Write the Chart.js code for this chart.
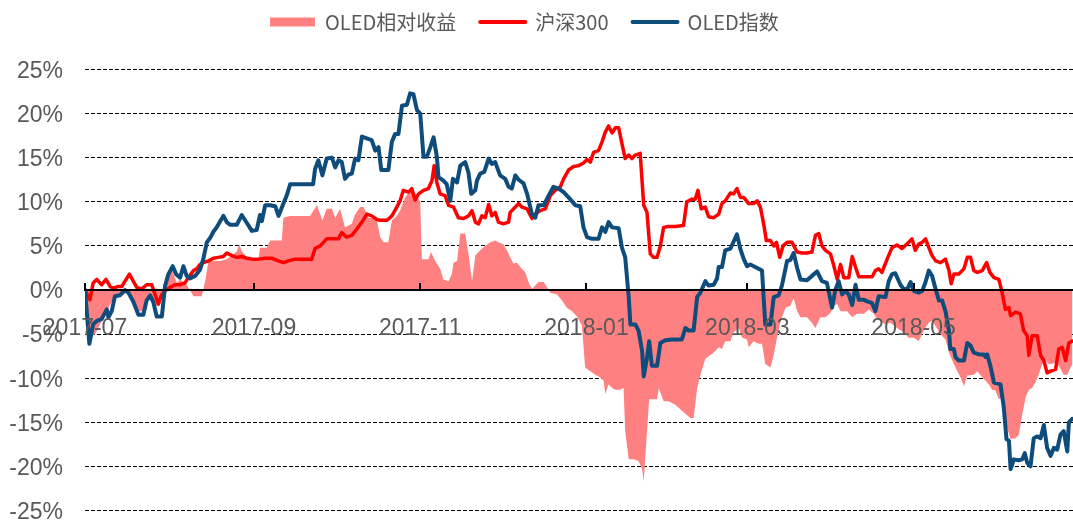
<!DOCTYPE html>
<html><head><meta charset="utf-8">
<script src="https://cdn.jsdelivr.net/npm/chart.js@4.4.1/dist/chart.umd.min.js"></script>
<style>html,body{margin:0;padding:0;background:#fff;overflow:hidden}canvas{display:block}</style>
</head><body>
<canvas id="c" width="1073" height="522"></canvas>
<script>
// x values are calendar days since 2017-07-01
const tickDays = [0, 62, 123, 184, 243, 304];
const tickLabels = ['2017-07', '2017-09', '2017-11', '2018-01', '2018-03', '2018-05'];
const seriesNames = ['OLED相对收益', '沪深300', 'OLED指数'];

const oledDays = [
0,1.6,3.0,4.3,6.1,8.0,8.6,9.8,11.0,12.8,
14.7,15.9,17.7,19.6,21.4,22.6,23.9,25.1,26.3,28.2,
29.4,30.6,32.2,33.4,34.9,36.1,37.3,38.5,40.4,42.2,
43.4,44.7,46.1,47.1,48.3,49.6,50.8,52.0,53.2,55.7,
57.5,59.4,61.2,63.0,64.2,64.9,66.1,67.9,69.8,71.0,
72.8,74.0,75.3,83.7,84.4,85.6,87.1,88.7,90.6,91.8,
93.0,94.2,95.4,96.7,97.9,99.1,100.3,101.6,103.4,105.2,
106.5,107.7,108.7,111.3,112.6,113.8,115.0,116.3,118.1,119.3,
120.5,121.8,123.0,124.2,125.4,126.7,127.9,129.1,129.7,131.5,
132.7,134.0,135.0,136.5,137.7,139.5,140.7,141.7,143.2,143.8,
145.0,146.5,148.1,149.3,150.5,152.3,154.2,155.4,156.6,157.9,
159.1,160.9,162.2,164.0,165.2,166.4,168.3,170.1,171.9,173.8,
175.6,176.8,178.0,179.9,181.7,182.9,184.2,186.0,188.4,189.7,
190.9,192.1,193.4,195.8,197.0,198.2,199.5,200.1,201.9,203.1,
204.4,205.0,206.2,207.0,208.0,209.9,211.1,212.9,215.4,219.0,
220.3,221.5,223.3,224.6,225.8,227.6,228.8,230.7,231.9,232.5,
233.7,234.9,236.8,238.0,239.2,240.5,241.7,242.9,244.1,246.6,
248.4,249.6,251.5,252.7,254.5,255.7,257.6,258.8,260.0,261.3,
262.5,264.9,266.7,268.6,270.4,272.2,274.1,275.3,276.5,277.8,
279.0,280.2,281.5,282.7,283.9,285.8,287.0,288.8,290.0,291.2,
293.7,294.9,296.1,297.3,299.2,300.4,301.7,302.9,304.1,305.9,
307.2,308.4,309.6,310.8,312.1,313.3,314.5,315.7,317.0,317.5,
318.8,319.4,320.6,322.5,323.7,324.9,326.1,328.0,329.8,330.4,
331.0,332.2,333.5,335.9,337.1,338.1,339.0,339.6,340.8,342.6,
343.9,344.8,345.7,346.9,348.1,349.4,350.6,351.8,353.0,354.3,
355.5,356.7,357.9,359.1,360.4,361.0,362.2];
const oledValues = [
0,-6.1,-3.9,-3.5,-3.3,-2.2,-3.1,-2.4,-0.7,-0.6,
0.0,-0.3,-1.3,-2.8,-2.8,-1.2,-0.6,-1.4,-3.0,-3.0,
0.5,1.8,2.7,1.8,1.4,2.7,1.6,1.3,1.6,2.3,
3.5,5.4,6.0,6.6,7.1,7.8,8.4,7.7,7.4,7.4,
8.5,7.6,6.7,6.8,8.5,7.8,9.6,9.6,9.5,8.4,
9.8,10.7,12.0,12.0,13.7,14.7,13.0,14.9,15.0,13.9,
14.7,14.5,12.6,13.1,13.2,14.9,14.7,17.4,17.2,17.0,
15.8,16.2,13.6,13.6,16.8,17.7,17.7,20.9,21.0,22.3,
22.2,20.4,20.0,15.1,15.1,16.2,17.3,15.1,12.8,12.4,
12.0,10.1,12.6,12.2,14.1,14.5,13.3,10.9,11.3,12.4,
13.2,13.4,14.9,14.3,14.5,13.0,12.6,11.7,11.5,13.0,
12.5,12.1,10.9,8.6,8.2,9.6,9.6,10.7,11.7,11.5,
11.1,10.7,10.3,9.6,9.5,7.1,6.0,5.8,5.8,7.1,
6.6,7.7,7.1,7.0,4.8,3.7,-0.8,-3.9,-3.9,-4.6,
-6.9,-9.8,-7.7,-5.8,-8.6,-8.6,-6.0,-5.7,-5.6,-5.6,
-4.3,-4.6,-4.6,-0.8,-0.3,1.0,0.5,0.6,1.3,2.6,
2.6,4.5,4.7,5.5,6.3,4.6,3.5,2.7,2.9,2.5,
2.2,-3.9,-3.9,-0.8,-0.6,0.5,3.3,3.4,4.2,2.5,
1.2,1.1,1.6,2.1,1.0,0.8,-2.0,0.0,1.0,-0.5,
-0.1,-0.5,-1.7,0.6,-1.1,-1.1,-1.3,-1.5,-2.4,-0.7,
-0.8,1.0,1.8,1.9,0.6,0.1,0.1,0.9,-0.1,-0.3,
-0.1,0.9,2.2,1.6,0.1,-1.2,-1.2,-2.4,-4.6,-6.7,
-6.7,-7.6,-8.0,-8.0,-6.0,-6.3,-7.1,-7.3,-7.3,-7.6,
-7.3,-8.6,-10.5,-10.7,-13.3,-16.9,-17.1,-20.3,-19.2,-19.3,
-19.2,-18.5,-19.6,-20.0,-16.8,-16.6,-16.8,-15.3,-17.9,-18.8,
-17.9,-18.1,-16.4,-16.0,-18.3,-15.0,-14.6];

const hs300Days = [
0,1.8,3.0,4.3,6.1,7.7,9.2,10.4,12.2,13.5,
14.7,16.3,17.7,19.0,20.8,22.6,24.5,25.7,26.9,28.2,
29.4,31.2,33.0,34.9,36.7,37.9,39.8,41.0,42.2,43.4,
45.3,47.1,48.9,50.8,52.0,53.9,55.7,57.5,59.4,61.2,
63.6,66.1,68.5,71.0,72.8,74.6,77.1,79.6,83.2,84.4,
86.3,88.7,91.2,93.0,94.2,96.0,97.9,99.7,101.6,103.4,
105.2,107.1,108.3,110.8,112.6,114.4,115.6,116.8,118.7,119.9,
121.1,122.4,124.2,126.0,127.3,128.1,129.1,130.3,132.1,133.4,
135.2,137.0,138.9,140.7,142.0,143.2,144.4,145.6,146.8,148.1,
149.3,150.5,151.7,153.5,155.4,156.0,157.9,159.1,160.3,162.2,
164.0,165.2,167.0,168.9,170.7,172.5,174.4,175.6,177.4,179.3,
181.1,182.9,184.2,185.4,186.6,188.4,189.7,190.9,192.1,193.4,
194.6,195.8,197.0,198.2,199.5,200.7,201.9,203.7,205.0,206.2,
207.4,208.6,209.9,211.1,212.3,214.1,216.6,219.6,220.8,222.7,
223.9,224.9,226.1,227.6,228.8,230.7,232.5,233.7,234.9,236.8,
238.0,239.2,240.5,241.7,243.5,245.3,246.6,247.8,249.0,250.0,
251.5,252.7,253.7,254.9,256.1,257.6,259.4,261.3,263.1,264.9,
266.7,268.0,269.2,270.4,271.7,273.5,274.7,276.0,277.2,278.4,
280.2,281.5,282.7,283.9,285.8,288.8,290.0,291.2,292.4,294.3,
296.1,297.9,299.8,302.2,303.4,304.6,305.9,307.2,308.4,309.6,
310.8,312.1,313.9,315.7,317.0,317.8,318.8,320.6,322.5,323.7,
324.9,326.1,327.4,329.2,330.8,332.0,333.5,335.3,336.5,337.7,
339.0,339.6,341.4,343.2,344.4,345.7,346.3,347.5,349.4,350.6,
351.8,353.0,354.3,356.1,357.3,358.5,359.8,361.0,362.2];
const hs300Values = [
0,-1.1,0.8,1.2,0.6,1.2,0.4,0.2,0.4,0.4,
1.0,1.8,1.0,0.3,0.1,0.6,0.6,-0.5,-1.6,-0.5,
-0.1,0.3,0.6,0.6,0.8,1.4,2.2,2.4,2.9,3.1,
3.3,3.6,3.7,3.8,4.2,3.9,3.7,3.8,3.6,3.5,
3.5,3.6,3.6,3.3,3.1,3.3,3.5,3.5,3.5,4.7,
5.0,5.8,5.8,5.8,6.5,6.0,6.2,6.9,7.7,8.6,
8.4,8.0,7.9,7.9,8.4,9.4,10.1,11.3,11.1,11.5,
10.2,10.9,11.3,11.5,12.4,14.1,12.2,10.9,10.7,9.6,
9.4,8.2,8.1,8.4,9.0,7.7,7.5,8.4,8.2,9.7,
8.4,8.8,7.7,7.5,7.7,8.8,9.4,9.8,9.4,9.2,
8.1,8.6,9.0,9.2,10.7,11.3,11.7,12.6,13.6,14.0,
14.1,14.4,14.8,14.5,15.6,15.8,16.8,17.9,18.6,17.8,
18.4,18.4,16.6,14.9,15.3,14.9,15.3,15.5,9.6,8.8,
4.1,3.7,3.7,5.0,7.1,7.2,7.2,7.3,10.0,10.3,
10.3,11.3,9.2,9.4,8.3,8.2,8.6,9.8,10.1,11.0,
10.9,11.5,10.5,10.5,9.8,9.8,10.1,9.4,7.5,5.6,
5.6,5.0,5.4,3.7,5.0,5.4,5.4,4.3,4.2,4.2,
4.3,6.2,6.4,5.0,4.5,4.1,2.8,1.2,2.9,1.4,
1.4,3.8,2.6,1.5,1.5,1.5,2.2,2.4,2.0,3.5,
4.8,5.1,4.7,5.4,5.8,4.5,5.2,5.4,5.8,4.8,
3.9,3.3,3.1,3.5,2.2,0.7,1.8,1.8,2.4,3.7,
3.7,2.2,2.0,2.2,3.1,2.0,1.4,1.2,-0.3,-2.2,
-2.0,-2.9,-2.5,-2.7,-4.6,-5.2,-7.4,-5.2,-5.2,-7.4,
-8.0,-9.4,-9.2,-9.0,-6.7,-6.5,-8.0,-6.0,-5.8];

const relDays = [
0,1.2,1.8,3.7,5.5,8.0,10.4,12.8,15.3,17.7,
19.6,21.4,23.2,24.5,26.3,27.5,28.7,30.0,31.8,33.7,
34.9,37.3,39.8,42.8,44.1,45.3,47.1,49.6,52.0,53.9,
55.7,56.6,57.5,59.4,61.2,63.6,64.2,66.7,67.9,72.2,
72.8,75.3,82.6,85.1,86.3,87.1,88.7,90.6,91.8,93.6,
95.4,97.9,99.1,101.0,102.2,104.0,105.8,107.1,108.3,109.5,
111.3,112.6,114.4,115.6,117.5,119.3,121.1,123.0,123.6,126.0,
126.9,128.5,130.3,131.5,133.4,134.6,135.2,136.5,137.7,139.5,
140.7,142.0,143.2,145.0,146.8,148.7,150.5,151.7,153.5,154.8,
156.0,157.2,158.5,159.7,161.5,162.7,164.0,165.2,166.4,168.3,
169.5,170.7,173.2,175.0,176.8,178.7,180.5,182.3,183.5,185.4,
187.2,189.0,190.3,190.9,192.1,193.4,194.6,196.4,197.6,198.2,
199.5,201.3,203.1,204.4,205.0,206.2,207.0,209.9,210.5,212.3,
214.1,216.6,219.0,222.1,223.3,224.6,225.8,227.6,228.8,230.7,
232.5,233.7,234.9,236.8,238.0,239.9,241.1,242.9,243.5,245.3,
247.1,248.4,249.6,251.5,252.7,253.9,254.9,255.7,257.0,258.8,
260.0,261.3,262.5,264.9,266.7,268.0,269.8,271.7,273.5,274.7,
276.0,277.2,279.6,281.5,283.3,285.8,287.6,289.4,290.6,291.9,
293.7,295.5,297.9,300.4,302.2,304.1,305.9,307.7,309.6,310.8,
312.1,313.9,315.7,317.0,318.2,319.4,321.2,322.5,323.7,326.1,
327.4,329.2,330.4,331.6,332.8,334.0,335.3,336.5,337.1,338.3,
339.6,341.4,342.6,343.9,345.1,346.3,347.5,348.7,349.9,351.2,
352.4,353.6,354.8,356.1,357.3,359.1,360.4,361.6,362.3];
const relValues = [
0,-4.3,-5.4,-5.0,-3.9,-2.4,-0.9,-0.5,-0.3,-1.6,
-2.4,-2.4,-1.2,-0.9,-1.8,-1.6,0.1,1.0,2.3,0.8,
1.2,0.6,-0.7,-0.7,1.0,3.3,3.3,3.3,3.5,3.9,
4.4,5.2,4.4,3.7,3.3,3.3,4.8,4.8,5.6,5.6,
8.2,8.4,8.4,9.6,8.6,7.9,9.2,9.2,8.2,9.2,
7.1,7.5,8.6,9.4,9.4,8.2,8.1,7.9,6.0,5.4,
5.4,7.9,8.4,9.0,10.5,11.3,10.9,10.0,3.5,3.5,
4.3,3.3,2.4,1.2,1.0,1.8,3.1,3.3,6.4,6.4,
4.1,1.0,3.9,4.5,5.0,5.4,5.6,5.4,5.2,4.5,
3.7,3.0,3.1,2.6,2.0,0.9,0.1,0.5,0.9,0.9,
0.3,-0.3,-0.5,-1.2,-2.0,-2.4,-3.0,-4.0,-8.8,-9.2,
-9.6,-9.9,-10.3,-11.8,-10.7,-11.1,-11.3,-11.3,-11.1,-16.0,
-19.2,-19.2,-19.4,-20.3,-21.7,-16.0,-12.4,-12.4,-11.1,-12.6,
-12.6,-13.0,-13.7,-14.5,-14.5,-11.1,-9.6,-7.8,-7.5,-7.1,
-6.5,-6.7,-5.8,-5.8,-4.8,-4.3,-5.4,-5.6,-6.5,-5.8,
-6.1,-6.1,-8.4,-8.8,-7.3,-5.4,-3.9,-3.1,-2.0,-1.8,
-0.9,-2.4,-3.1,-3.1,-3.7,-4.3,-3.1,-3.1,-2.6,-1.8,
-1.6,-2.4,-2.4,-3.1,-2.7,-2.7,-2.2,-2.7,-3.3,-3.5,
-3.9,-3.7,-4.3,-4.8,-5.4,-5.4,-5.8,-4.6,-3.7,-3.5,
-4.1,-5.0,-5.6,-7.1,-8.0,-8.8,-9.9,-10.9,-9.7,-9.6,
-9.2,-9.9,-10.3,-10.7,-11.3,-11.4,-12.4,-12.2,-13.3,-15.6,
-16.9,-16.8,-16.4,-14.1,-12.2,-11.3,-11.1,-10.5,-9.6,-8.4,
-8.0,-8.4,-8.4,-8.2,-8.6,-9.6,-9.6,-8.8,-8.4];

const toPoints = (d, v) => d.slice(0, Math.min(d.length, v.length)).map((x, i) => ({ x, y: v[i] }));

const PINK = '#FF8080', RED = '#FF0000', BLUE = '#0E4C7C', GREY = '#595959';
const tickFont = { family: '"Liberation Sans", Arial, sans-serif', size: 23 };

const legendPlace = {
  id: 'legendPlace',
  afterLayout(chart) {
    const lg = chart.legend;
    if (!lg || !lg.lineWidths) return;
    const pad = lg.options.labels.padding;
    const h = lg.height;
    lg.top = -12; lg.bottom = lg.top + h;
    const curX = (lg.left + pad + lg.right - lg.lineWidths[0]) / 2;
    const dx = 270 - curX;
    lg.left += dx; lg.right += dx;
  }
};
const axisTicks = {
  id: 'axisTicks',
  afterDraw(chart) {
    const xs = chart.scales.x, ys = chart.scales.y, ctx = chart.ctx;
    const y0 = ys.getPixelForValue(0);
    ctx.save();
    ctx.strokeStyle = '#000'; ctx.lineWidth = 2;
    xs.ticks.forEach(t => {
      const px = Math.round(xs.getPixelForValue(t.value));
      ctx.beginPath(); ctx.moveTo(px, y0 - 7); ctx.lineTo(px, y0); ctx.stroke();
    });
    ctx.restore();
  }
};

new Chart(document.getElementById('c'), {
  type: 'line',
  data: {
    datasets: [
      { label: seriesNames[0], data: toPoints(relDays, relValues), fill: 'origin',
        backgroundColor: PINK, borderColor: 'rgba(0,0,0,0)', borderWidth: 0, pointRadius: 0, order: 3, legendColor: PINK },
      { label: seriesNames[1], data: toPoints(hs300Days, hs300Values), fill: false,
        borderColor: RED, backgroundColor: RED, borderWidth: 3.5, pointRadius: 0, order: 2,
        borderJoinStyle: 'round', borderCapStyle: 'round', legendColor: RED },
      { label: seriesNames[2], data: toPoints(oledDays, oledValues), fill: false,
        borderColor: BLUE, backgroundColor: BLUE, borderWidth: 4, pointRadius: 0, order: 1,
        borderJoinStyle: 'round', borderCapStyle: 'round', legendColor: BLUE }
    ]
  },
  options: {
    responsive: false, animation: false, devicePixelRatio: 1, events: [],
    layout: { padding: { top: 15.5, left: 0, right: 0, bottom: 11.5 } },
    plugins: {
      tooltip: { enabled: false },
      legend: {
        position: 'top',
        labels: {
          usePointStyle: true, pointStyleWidth: 45, boxHeight: 9, padding: 24,
          color: GREY, font: { family: '"Noto Sans CJK SC", sans-serif', size: 20 },
          generateLabels: (chart) => chart.data.datasets.map((ds, i) => ({
            text: ds.label, datasetIndex: i, hidden: false,
            fillStyle: ds.legendColor, strokeStyle: ds.legendColor,
            lineWidth: i === 0 ? 0 : 4, lineCap: 'round',
            pointStyle: i === 0 ? 'rect' : 'line', fontColor: GREY
          }))
        }
      }
    },
    scales: {
      x: {
        type: 'linear', min: 0, max: 362.5, position: { y: 0 },
        afterBuildTicks: (s) => { s.ticks = tickDays.map(v => ({ value: v })); },
        ticks: { z: 1, callback: (v, i) => tickLabels[i], autoSkip: false, maxRotation: 0, minRotation: 0,
                 padding: 17, color: GREY, font: tickFont },
        grid: { display: false },
        border: { z: 1, display: true, color: '#000', width: 2 }
      },
      y: {
        min: -25, max: 25,
        afterFit: (s) => { s.width = 85; s.paddingTop = 0; s.paddingBottom = 0; },
        ticks: { stepSize: 5, callback: (v) => v + '%', padding: 22, labelOffset: 2, color: GREY, font: tickFont },
        grid: { color: '#000', lineWidth: 1, drawTicks: false },
        border: { display: false, dash: [4, 2] }
      }
    }
  },
  plugins: [legendPlace, axisTicks]
});
</script>
</body></html>
